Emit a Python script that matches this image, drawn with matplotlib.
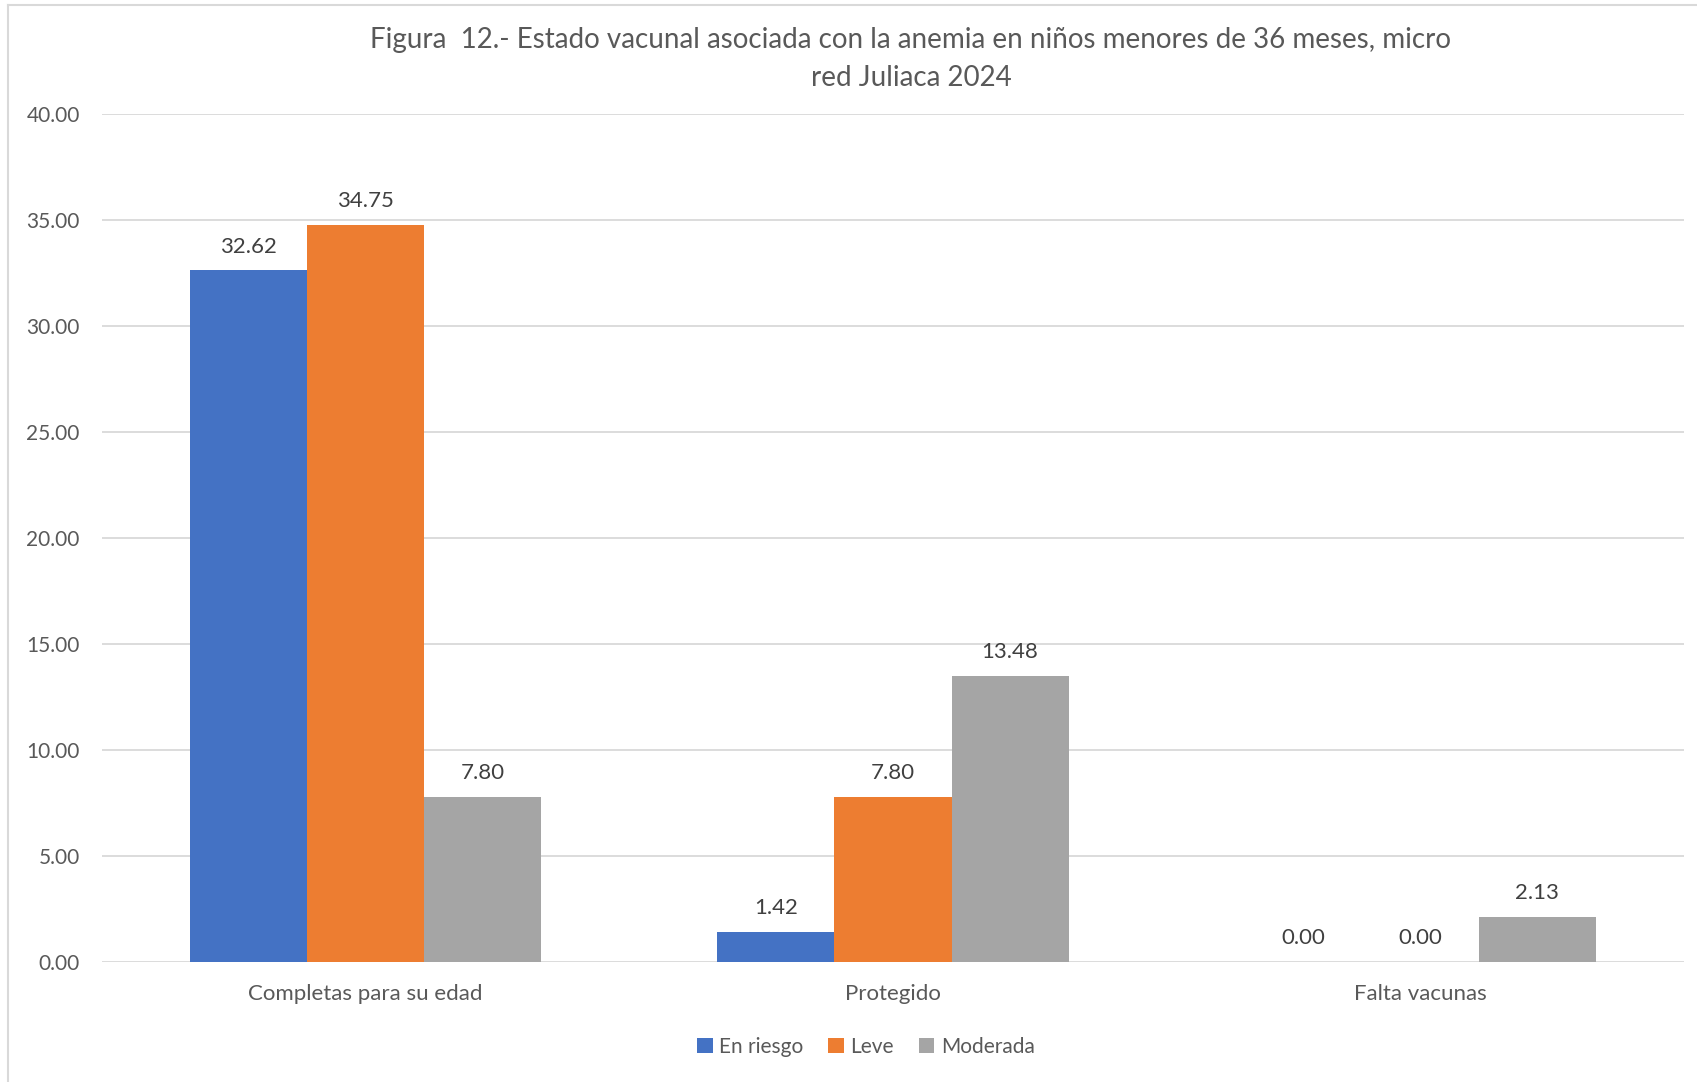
import matplotlib.pyplot as plt
import numpy as np
from matplotlib.lines import Line2D

categorias = ["Completas para su edad", "Protegido", "Falta vacunas"]
en_riesgo = [32.62, 1.42, 0.00]
leve = [34.75, 7.80, 0.00]
moderada = [7.80, 13.48, 2.13]
series = ["En riesgo", "Leve", "Moderada"]
colores = ["#4472C4", "#ED7D31", "#A5A5A5"]

plt.rcParams['font.family'] = ['Lato', 'DejaVu Sans']

W, H = 1697, 1082
fig = plt.figure(figsize=(W / 100, H / 100), dpi=100)
fig.patch.set_facecolor('white')

# borde del área del gráfico
fig.add_artist(Line2D([8 / W, 8 / W], [0, 1 - 5 / H], color='#D9D9D9', lw=1.5))
fig.add_artist(Line2D([8 / W, 1], [1 - 5 / H, 1 - 5 / H], color='#D9D9D9', lw=1.5))

ax = fig.add_axes([102 / W, 120 / H, (1684 - 102) / W, (962 - 114) / H])

x = np.arange(len(categorias))
ancho = 0.222
for i, (vals, nombre, c) in enumerate(zip([en_riesgo, leve, moderada], series, colores)):
    barras = ax.bar(x + (i - 1) * ancho, vals, ancho, color=c, label=nombre, zorder=3)
    ax.bar_label(barras, labels=[f"{v:.2f}" for v in vals], padding=10,
                 fontsize=16, color='#404040')

ax.set_xlim(-0.5, 2.5)
ax.set_ylim(0, 40)
ax.set_yticks(np.arange(0, 41, 5))
ax.set_yticklabels([f"{v:.2f}" for v in np.arange(0, 41, 5)])
ax.set_xticks(x)
ax.set_xticklabels(categorias, fontsize=16)
ax.tick_params(axis='both', length=0, labelcolor='#595959')
ax.tick_params(axis='y', labelsize=15, pad=16)
ax.tick_params(axis='x', pad=16)
ax.grid(axis='y', color='#D9D9D9', lw=1.3, zorder=0)
for s in ax.spines.values():
    s.set_visible(False)

fig.text(911 / W, 1 - 40 / H, "Figura  12.- Estado vacunal asociada con la anemia en niños menores de 36 meses, micro",
         ha='center', va='center', fontsize=20, color='#595959')
fig.text(911 / W, 1 - 78 / H, "red Juliaca 2024",
         ha='center', va='center', fontsize=20, color='#595959')

fig.legend(loc='center', bbox_to_anchor=(866 / W, 1 - 1047 / H), ncol=3, frameon=False,
           fontsize=15, labelcolor='#595959', handlelength=0.75, handleheight=0.75,
           handletextpad=0.3, columnspacing=1.2)

fig.savefig("out.png", dpi=100)
